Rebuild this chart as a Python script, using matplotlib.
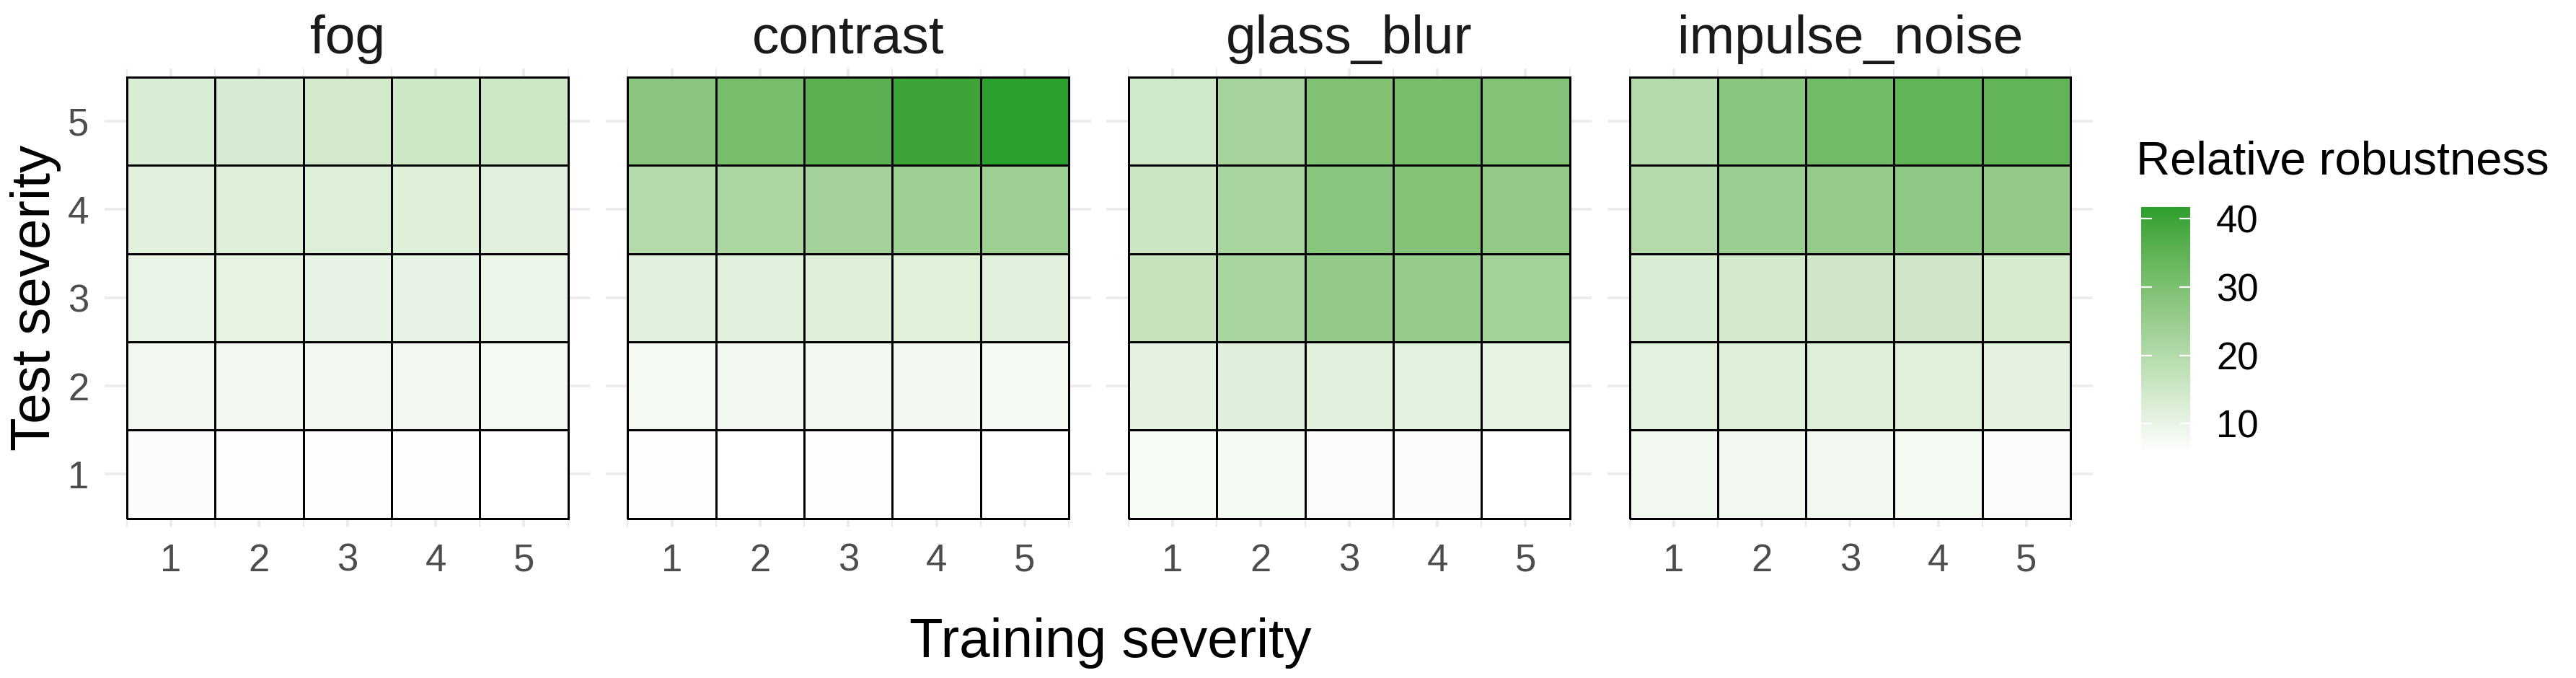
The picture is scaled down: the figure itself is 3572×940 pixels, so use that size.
import numpy as np
import matplotlib

matplotlib.use("Agg")
import matplotlib.pyplot as plt  # noqa: E402
from matplotlib.colors import ListedColormap, Normalize  # noqa: E402

plt.rcParams["font.family"] = ["Liberation Sans", "DejaVu Sans"]

# ---------------------------------------------------------------------------
# Data: relative robustness, rows = test severity 1..5, cols = training 1..5
# ---------------------------------------------------------------------------
corruptions = ["fog", "contrast", "glass_blur", "impulse_noise"]
severities = [1, 2, 3, 4, 5]

fog = [
    [6.6, 6.4, 6.5, 6.2, 5.8],
    [8.4, 8.6, 8.6, 8.4, 8.0],
    [10.0, 10.6, 10.4, 10.4, 9.6],
    [11.4, 12.0, 12.2, 12.0, 11.6],
    [13.0, 13.6, 14.3, 15.2, 15.4],
]
contrast = [
    [6.1, 6.0, 6.2, 6.0, 6.0],
    [8.0, 8.2, 8.3, 8.1, 7.9],
    [11.3, 11.6, 12.2, 11.8, 11.4],
    [20.0, 21.5, 23.0, 24.0, 24.2],
    [27.5, 31.0, 35.8, 39.8, 41.7],
]
glass_blur = [
    [7.6, 7.8, 7.0, 6.6, 6.0],
    [10.8, 11.9, 11.4, 11.2, 10.5],
    [16.6, 22.0, 26.0, 25.5, 23.3],
    [15.6, 22.3, 28.0, 28.6, 26.0],
    [14.8, 22.6, 29.3, 31.0, 28.8],
]
impulse_noise = [
    [8.6, 8.4, 8.6, 8.0, 7.0],
    [11.2, 12.0, 12.0, 11.8, 10.8],
    [13.0, 14.0, 15.0, 15.0, 13.7],
    [20.0, 24.5, 25.6, 26.6, 26.0],
    [20.0, 27.8, 31.5, 34.5, 34.4],
]
panels = [fog, contrast, glass_blur, impulse_noise]
cbar_ticks = [10, 20, 30, 40]

# ---------------------------------------------------------------------------
# ggplot-like white -> green gradient, interpolated in CIELAB
# ---------------------------------------------------------------------------
_WHITE = np.array([1.0, 1.0, 1.0])
_GREEN = np.array([0x2C, 0xA0, 0x2C]) / 255.0
_REF = np.array([0.95047, 1.0, 1.08883])
_M = np.array([[0.4124, 0.3576, 0.1805],
               [0.2126, 0.7152, 0.0722],
               [0.0193, 0.1192, 0.9505]])


def srgb_to_lab(rgb):
    c = np.where(rgb <= 0.04045, rgb / 12.92, ((rgb + 0.055) / 1.055) ** 2.4)
    xyz = _M @ c / _REF
    f = np.where(xyz > (6 / 29) ** 3, np.cbrt(xyz), xyz / (3 * (6 / 29) ** 2) + 4 / 29)
    return np.array([116 * f[1] - 16, 500 * (f[0] - f[1]), 200 * (f[1] - f[2])])


def lab_to_srgb(lab):
    fy = (lab[0] + 16) / 116
    f = np.array([fy + lab[1] / 500, fy, fy - lab[2] / 200])
    xyz = np.where(f > 6 / 29, f ** 3, 3 * (6 / 29) ** 2 * (f - 4 / 29)) * _REF
    c = np.linalg.solve(_M, xyz)
    c = np.clip(c, 0, 1)
    rgb = np.where(c <= 0.0031308, 12.92 * c, 1.055 * c ** (1 / 2.4) - 0.055)
    return np.clip(rgb, 0, 1)


lab_lo, lab_hi = srgb_to_lab(_WHITE), srgb_to_lab(_GREEN)
cmap = ListedColormap([lab_to_srgb(lab_lo + t * (lab_hi - lab_lo))
                       for t in np.linspace(0, 1, 256)])

all_vals = np.array(panels, dtype=float)
norm = Normalize(vmin=all_vals.min(), vmax=all_vals.max())

# ---------------------------------------------------------------------------
# Layout (pixel based)
# ---------------------------------------------------------------------------
W, H = 3572, 940
fig = plt.figure(figsize=(W / 100, H / 100), dpi=100)
fig.patch.set_facecolor("white")


def px_axes(left, top, w, h):
    return fig.add_axes([left / W, (H - top - h) / H, w / W, h / H])


CELL = 122.3
tile_lefts = [176, 870.5, 1565, 2259.5]
tile_top = 107
ax_w = 5.5 * CELL
ax_h = 5.2 * CELL

edges = np.arange(0.5, 6.0, 1.0)
mesh = None
for k, (name, vals) in enumerate(zip(corruptions, panels)):
    ax = px_axes(tile_lefts[k] - 0.25 * CELL, tile_top - 0.1 * CELL, ax_w, ax_h)
    mesh = ax.pcolormesh(edges, edges, np.array(vals), cmap=cmap, norm=norm,
                         edgecolors="black", linewidth=1.8, zorder=2)
    ax.set_xlim(0.25, 5.75)
    ax.set_ylim(0.4, 5.6)
    ax.set_xticks(severities)
    ax.set_xticks(edges, minor=True)
    ax.set_yticks(severities)
    ax.grid(True, which="major", color="#ebebeb", linewidth=2.6, zorder=0)
    ax.grid(True, which="minor", axis="x", color="#ebebeb", linewidth=1.4, zorder=0)
    ax.set_axisbelow(True)
    for spine in ax.spines.values():
        spine.set_visible(False)
    ax.tick_params(which="both", length=0, labelsize=38, labelcolor="#4d4d4d", pad=16)
    if k > 0:
        ax.tick_params(axis="y", labelleft=False)
    ax.set_title(name, fontsize=54, color="#1a1a1a", pad=15)

fig.text(1540 / W, (H - 911) / H, "Training severity", fontsize=55,
         ha="center", va="baseline", color="black")
fig.text(50 / W, (H - 413) / H, "Test severity", fontsize=55, rotation=90,
         ha="center", va="center", color="black")

# Colorbar legend
cax = px_axes(2969, 287, 68, 340)
cb = fig.colorbar(mesh, cax=cax, ticks=cbar_ticks)
cb.outline.set_visible(False)
cax.tick_params(length=0, labelsize=38, labelcolor="black", pad=26)
cax.hlines(cbar_ticks, 0, 0.22, colors="white", linewidth=1.6)
cax.hlines(cbar_ticks, 0.78, 1.0, colors="white", linewidth=1.6)
fig.text(2962 / W, (H - 241) / H, "Relative robustness", fontsize=47,
         ha="left", va="baseline", color="black")

fig.savefig("out.png", dpi=100, facecolor="white")
